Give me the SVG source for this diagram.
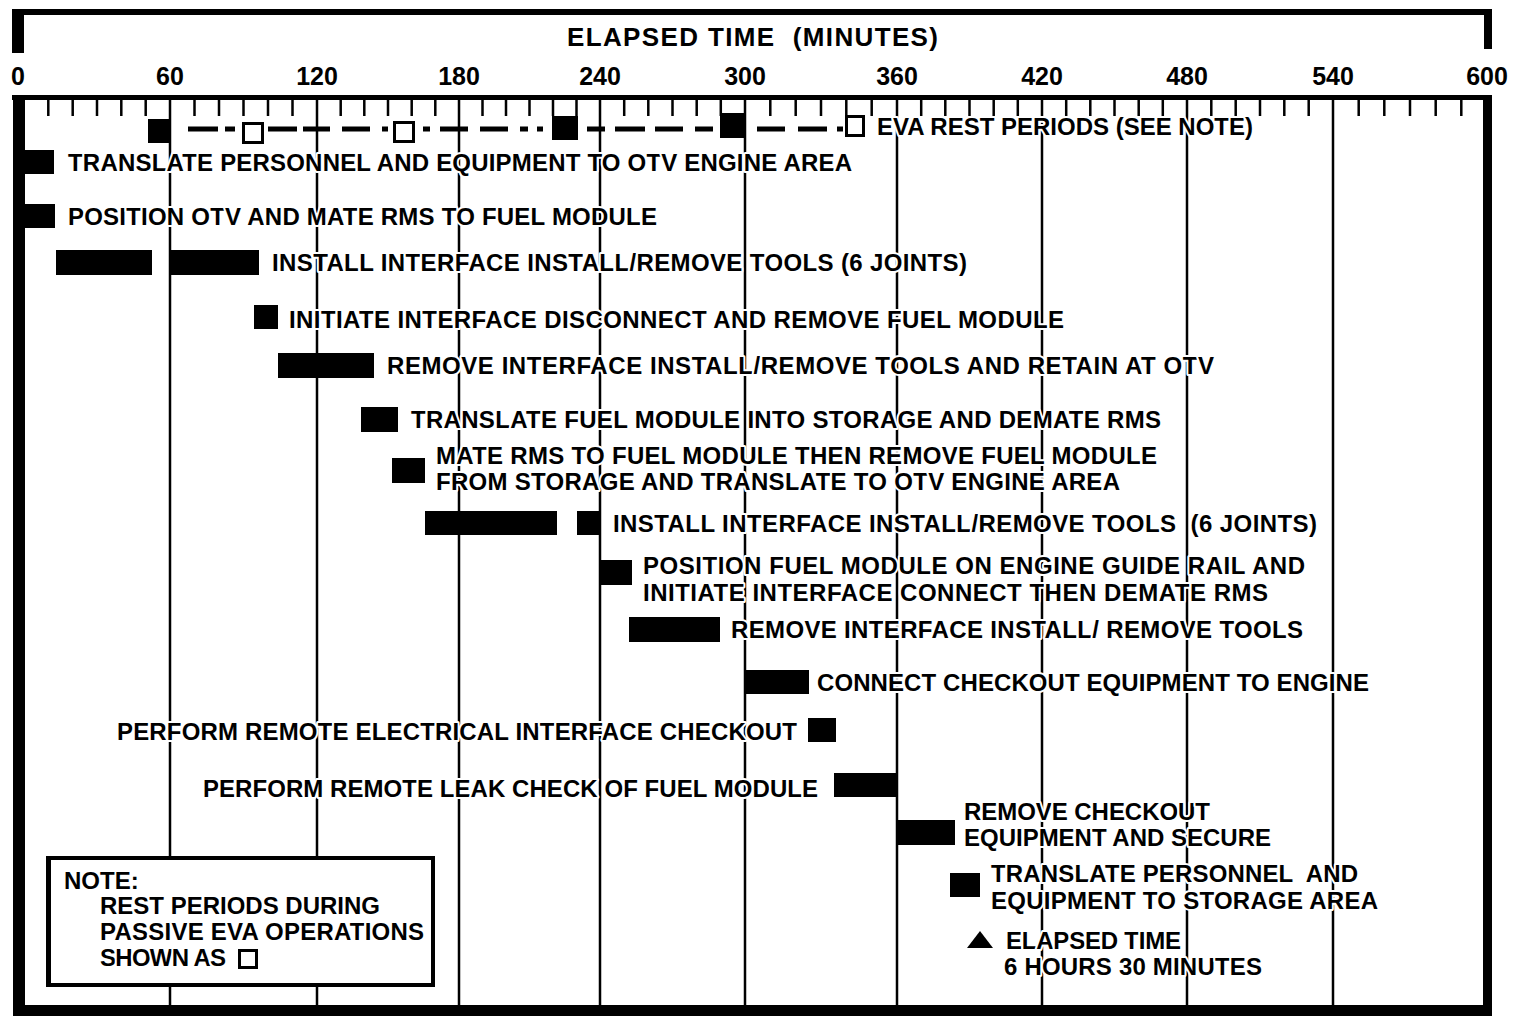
<svg xmlns="http://www.w3.org/2000/svg" width="1532" height="1016" viewBox="0 0 1532 1016" xml:space="preserve">
<style>
text{font-family:"Liberation Sans",Arial,Helvetica,sans-serif;font-weight:bold;fill:#000;white-space:pre}
.lbl{font-size:24px;stroke:#fff;stroke-width:4;paint-order:stroke;stroke-linejoin:round}
.num{font-size:25px;text-anchor:middle}
.hdr{font-size:26px;font-weight:bold}
.grid{stroke:#000;stroke-width:2.5;fill:none}
.tick{stroke:#000;stroke-width:2.5;fill:none}
.bar{fill:#000}
.open{fill:#fff;stroke:#000;stroke-width:3}
.dash{stroke:#000;stroke-width:5;fill:none}
</style>
<rect width="1532" height="1016" fill="#fff"/>
<g id="header">
<rect x="12" y="9" width="1480" height="6" fill="#000"/>
<rect x="12" y="9" width="12" height="44" fill="#000"/>
<rect x="1484" y="9" width="8" height="40" fill="#000"/>
<text class="hdr" x="567" y="46" textLength="371" lengthAdjust="spacing">ELAPSED TIME  (MINUTES)</text>
<text class="num" x="18" y="85">0</text>
<text class="num" x="170" y="85">60</text>
<text class="num" x="317" y="85">120</text>
<text class="num" x="459" y="85">180</text>
<text class="num" x="600" y="85">240</text>
<text class="num" x="745" y="85">300</text>
<text class="num" x="897" y="85">360</text>
<text class="num" x="1042" y="85">420</text>
<text class="num" x="1187" y="85">480</text>
<text class="num" x="1333" y="85">540</text>
<text class="num" x="1487" y="85">600</text>
</g>
<g id="grid">
<path class="tick" d="M48.3 98V116M72.7 98V116M97 98V116M121.3 98V116M145.7 98V116M194.5 98V116M219 98V116M243.5 98V116M268 98V116M292.5 98V116M340.7 98V116M364.3 98V116M388 98V116M411.7 98V116M435.3 98V116M482.5 98V116M506 98V116M529.5 98V116M553 98V116M576.5 98V116M624.2 98V116M648.3 98V116M672.5 98V116M696.7 98V116M720.8 98V116M770.3 98V116M795.7 98V116M821 98V116M846.3 98V116M871.7 98V116M921.2 98V116M945.3 98V116M969.5 98V116M993.7 98V116M1017.8 98V116M1066.2 98V116M1090.3 98V116M1114.5 98V116M1138.7 98V116M1162.8 98V116M1211.3 98V116M1235.7 98V116M1260 98V116M1284.3 98V116M1308.7 98V116M1358.7 98V116M1384.3 98V116M1410 98V116M1435.7 98V116M1461.3 98V116"/>
<path class="grid" d="M170 98V1005M317 98V1005M459 98V1005M600 98V1005M745 98V1005M897 98V1005M1042 98V1005M1187 98V1005M1333 98V1005"/>
</g>
<g id="frame">
<rect x="12" y="95" width="1480" height="5" fill="#000"/>
<rect x="13" y="95" width="12" height="921" fill="#000"/>
<rect x="1483" y="95" width="9" height="921" fill="#000"/>
<rect x="13" y="1005" width="1479" height="11" fill="#000"/>
</g>
<g id="connectors">
<path class="dash" d="M188 129H218M225 129H235M268 129H297M303 129H330M342 129H370M382 129H388M423 129H430M440 129H468M480 129H508M520 129H528M537 129H543M587 129H605M615 129H645M655 129H683M695 129H713M757 129H785M798 129H827M837 129H843"/>
</g>
<g id="rest-periods">
<rect class="bar" x="148" y="119" width="21" height="24"/>
<rect class="open" x="243.5" y="123.5" width="19" height="19"/>
<rect class="open" x="394.5" y="122.5" width="19" height="19"/>
<rect class="bar" x="552" y="116" width="26" height="24"/>
<rect class="bar" x="720" y="113" width="26" height="25"/>
<rect class="open" x="846.5" y="116.5" width="17" height="19"/>
<text class="lbl" x="877" y="135" textLength="376" lengthAdjust="spacing">EVA REST PERIODS (SEE NOTE)</text>
</g>
<g id="task1">
<rect class="bar" x="25" y="150" width="29" height="24"/>
<text class="lbl" x="68" y="171" textLength="784" lengthAdjust="spacing">TRANSLATE PERSONNEL AND EQUIPMENT TO OTV ENGINE AREA</text>
</g>
<g id="task2">
<rect class="bar" x="25" y="204" width="30" height="24"/>
<text class="lbl" x="68" y="225" textLength="589" lengthAdjust="spacing">POSITION OTV AND MATE RMS TO FUEL MODULE</text>
</g>
<g id="task3">
<rect class="bar" x="56" y="250" width="96" height="25"/>
<rect class="bar" x="170" y="250" width="89" height="25"/>
<text class="lbl" x="272" y="271" textLength="695" lengthAdjust="spacing">INSTALL INTERFACE INSTALL/REMOVE TOOLS (6 JOINTS)</text>
</g>
<g id="task4">
<rect class="bar" x="254" y="305" width="24" height="24"/>
<text class="lbl" x="289" y="328" textLength="775" lengthAdjust="spacing">INITIATE INTERFACE DISCONNECT AND REMOVE FUEL MODULE</text>
</g>
<g id="task5">
<rect class="bar" x="278" y="353" width="96" height="25"/>
<text class="lbl" x="387" y="374" textLength="827" lengthAdjust="spacing">REMOVE INTERFACE INSTALL/REMOVE TOOLS AND RETAIN AT OTV</text>
</g>
<g id="task6">
<rect class="bar" x="361" y="407" width="37" height="25"/>
<text class="lbl" x="411" y="428" textLength="750" lengthAdjust="spacing">TRANSLATE FUEL MODULE INTO STORAGE AND DEMATE RMS</text>
</g>
<g id="task7">
<rect class="bar" x="392" y="458" width="33" height="25"/>
<text class="lbl" x="436" y="464" textLength="721" lengthAdjust="spacing">MATE RMS TO FUEL MODULE THEN REMOVE FUEL MODULE</text>
<text class="lbl" x="436" y="490" textLength="684" lengthAdjust="spacing">FROM STORAGE AND TRANSLATE TO OTV ENGINE AREA</text>
</g>
<g id="task8">
<rect class="bar" x="425" y="511" width="132" height="24"/>
<rect class="bar" x="577" y="511" width="24" height="24"/>
<text class="lbl" x="613" y="532" textLength="704" lengthAdjust="spacing">INSTALL INTERFACE INSTALL/REMOVE TOOLS  (6 JOINTS)</text>
</g>
<g id="task9">
<rect class="bar" x="601" y="560" width="31" height="25"/>
<text class="lbl" x="643" y="574" textLength="662" lengthAdjust="spacing">POSITION FUEL MODULE ON ENGINE GUIDE RAIL AND</text>
<text class="lbl" x="643" y="601" textLength="625" lengthAdjust="spacing">INITIATE INTERFACE CONNECT THEN DEMATE RMS</text>
</g>
<g id="task10">
<rect class="bar" x="629" y="617" width="91" height="25"/>
<text class="lbl" x="731" y="638" textLength="572" lengthAdjust="spacing">REMOVE INTERFACE INSTALL/ REMOVE TOOLS</text>
</g>
<g id="task11">
<rect class="bar" x="745" y="670" width="64" height="24"/>
<text class="lbl" x="817" y="691" textLength="552" lengthAdjust="spacing">CONNECT CHECKOUT EQUIPMENT TO ENGINE</text>
</g>
<g id="task12">
<text class="lbl" x="117" y="740" textLength="680" lengthAdjust="spacing">PERFORM REMOTE ELECTRICAL INTERFACE CHECKOUT</text>
<rect class="bar" x="808" y="718" width="28" height="24"/>
</g>
<g id="task13">
<text class="lbl" x="203" y="797" textLength="615" lengthAdjust="spacing">PERFORM REMOTE LEAK CHECK OF FUEL MODULE</text>
<rect class="bar" x="834" y="773" width="63" height="24"/>
</g>
<g id="task14">
<rect class="bar" x="897" y="820" width="58" height="25"/>
<text class="lbl" x="964" y="820" textLength="246" lengthAdjust="spacing">REMOVE CHECKOUT</text>
<text class="lbl" x="964" y="846" textLength="307" lengthAdjust="spacing">EQUIPMENT AND SECURE</text>
</g>
<g id="task15">
<rect class="bar" x="950" y="873" width="30" height="24"/>
<text class="lbl" x="991" y="882" textLength="367" lengthAdjust="spacing">TRANSLATE PERSONNEL  AND</text>
<text class="lbl" x="991" y="909" textLength="387" lengthAdjust="spacing">EQUIPMENT TO STORAGE AREA</text>
</g>
<g id="elapsed">
<path d="M980 931L993 948H967Z" fill="#000"/>
<text class="lbl" x="1006" y="949" textLength="175" lengthAdjust="spacing">ELAPSED TIME</text>
<text class="lbl" x="1004" y="975" textLength="258" lengthAdjust="spacing">6 HOURS 30 MINUTES</text>
</g>
<g id="note">
<rect x="48" y="858" width="385" height="127" fill="#fff" stroke="#000" stroke-width="4"/>
<rect x="46" y="858" width="5" height="127" fill="#000"/>
<text class="lbl" x="64" y="889">NOTE:</text>
<text class="lbl" x="100" y="914" textLength="280" lengthAdjust="spacing">REST PERIODS DURING</text>
<text class="lbl" x="100" y="940" textLength="324" lengthAdjust="spacing">PASSIVE EVA OPERATIONS</text>
<text class="lbl" x="100" y="966" textLength="126" lengthAdjust="spacing">SHOWN AS</text>
<rect class="open" x="239.5" y="950.5" width="17" height="17" stroke-width="2.5"/>
</g>
</svg>
